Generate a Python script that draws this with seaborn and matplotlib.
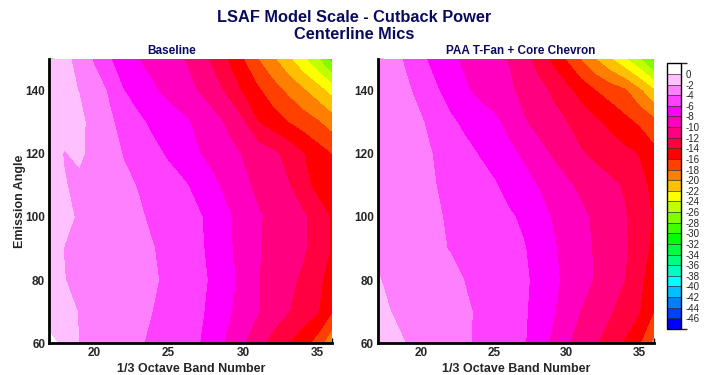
import numpy as np
import matplotlib
matplotlib.use("Agg")
import matplotlib.pyplot as plt
import seaborn as sns
from matplotlib.colors import ListedColormap, BoundaryNorm
from matplotlib.cm import ScalarMappable

# ---------------- data ----------------
bands = [17, 18, 19, 20, 21, 22, 23, 24, 25, 26, 27, 28, 29, 30, 31, 32, 33, 34, 35, 36]
angles = [60, 70, 80, 90, 100, 110, 120, 130, 140, 150]

baseline = [
    [0.8, -0.8, -2.03, -2.5, -2.9, -3.4, -3.8, -4.4, -4.9, -5.4, -5.9, -7.1, -8.4, -9.9, -11.3, -12.8, -13.9, -15.2, -16.9, -19.8],
    [-1.4, -1.3, -2.1, -2.5, -2.8, -3.2, -3.6, -4.05, -4.6, -5.3, -5.7, -6.5, -7.75, -8.9, -9.93, -10.9, -11.9, -12.9, -13.85, -16.0],
    [-0.8, -1.97, -2.3, -2.6, -2.9, -3.2, -3.5, -3.85, -4.3, -4.9, -5.55, -6.3, -7.4, -8.6, -9.9, -10.75, -11.5, -12.35, -13.5, -15.0],
    [-1.0, -2.05, -2.35, -2.65, -2.95, -3.3, -3.65, -3.97, -4.5, -5.1, -5.7, -6.5, -7.7, -8.8, -9.9, -10.5, -11.1, -11.7, -13.0, -14.2],
    [-1.0, -1.6, -2.2, -2.45, -2.9, -3.35, -3.8, -4.3, -4.8, -5.3, -5.8, -6.6, -7.8, -8.8, -9.8, -10.5, -11.1, -11.7, -12.8, -14.3],
    [-1.0, -1.9, -2.4, -2.8, -3.25, -3.65, -4.1, -4.65, -5.2, -5.75, -6.55, -7.6, -8.6, -9.6, -10.4, -11.1, -11.85, -13.2, -14.7, -15.5],
    [-1.2, -2.1, -1.7, -2.6, -3.4, -4.1, -4.8, -5.5, -6.28, -7.1, -7.9, -8.67, -9.4, -10.15, -10.9, -11.6, -12.6, -13.9, -15.1, -16.1],
    [-1.0, -1.3, -1.6, -2.6, -3.7, -4.6, -5.6, -6.5, -7.0, -7.6, -8.5, -9.3, -10.4, -11.8, -14.0, -15.0, -16.0, -16.9, -17.8, -19.0],
    [-1.0, -1.5, -2.05, -3.1, -4.2, -6.0, -7.0, -7.8, -8.6, -9.33, -10.1, -11.2, -12.5, -14.3, -15.7, -17.1, -18.4, -19.7, -21.1, -22.8],
    [-0.8, -1.5, -2.64, -4.24, -5.84, -6.95, -8.0, -8.65, -9.3, -9.94, -11.1, -12.5, -14.2, -16.0, -18.0, -19.7, -21.5, -23.6, -25.8, -29.0],
]

paa_chevron = [
    [0.1, -1.3, -2.1, -2.5, -2.9, -3.35, -3.8, -4.3, -4.8, -5.3, -5.8, -6.9, -8.35, -9.8, -11.0, -11.85, -12.9, -14.2, -15.8, -18.6],
    [-1.4, -2.1, -2.4, -2.75, -3.1, -3.45, -3.8, -4.2, -4.6, -5.2, -5.75, -6.6, -7.75, -9.0, -10.1, -11.0, -11.85, -12.8, -13.9, -16.0],
    [-1.95, -2.2, -2.45, -2.75, -3.1, -3.5, -4.05, -4.45, -4.9, -5.3, -5.7, -6.4, -7.5, -8.5, -9.3, -10.2, -11.0, -12.0, -13.5, -15.2],
    [-2.2, -2.4, -2.8, -3.25, -3.7, -4.1, -4.45, -4.75, -5.05, -5.4, -5.85, -6.65, -7.7, -8.6, -9.4, -10.2, -10.95, -11.75, -13.0, -14.5],
    [-2.2, -2.5, -2.9, -3.35, -3.8, -4.25, -4.6, -5.0, -5.35, -5.75, -6.3, -7.2, -8.1, -8.8, -9.6, -10.4, -11.1, -11.85, -13.0, -14.2],
    [-2.2, -2.5, -3.0, -3.5, -4.0, -4.45, -4.9, -5.35, -5.8, -6.6, -7.25, -8.05, -8.85, -9.7, -10.4, -11.05, -11.6, -12.2, -13.35, -14.5],
    [-2.2, -2.6, -3.0, -3.5, -4.2, -4.85, -5.5, -6.1, -6.8, -7.5, -8.3, -9.3, -10.2, -11.0, -11.85, -12.45, -13.0, -13.5, -14.1, -15.4],
    [-2.3, -2.7, -3.2, -3.85, -4.8, -5.7, -6.4, -7.0, -7.6, -8.6, -9.8, -10.6, -11.3, -12.0, -12.8, -13.7, -14.5, -15.45, -16.3, -17.4],
    [-2.3, -2.9, -3.7, -4.75, -5.8, -6.8, -7.75, -8.5, -9.1, -9.7, -10.5, -11.34, -12.3, -13.5, -14.8, -16.0, -16.9, -17.7, -19.6, -21.7],
    [-2.4, -3.3, -4.4, -5.66, -6.7, -7.67, -8.37, -8.93, -9.5, -10.1, -11.3, -12.7, -14.4, -16.2, -18.1, -20.0, -21.8, -23.7, -25.8, -28.7],
]

level_ticks = [0, -2, -4, -6, -8, -10, -12, -14, -16, -18, -20, -22, -24, -26,
               -28, -30, -32, -34, -36, -38, -40, -42, -44, -46]
level_edges = [2] + level_ticks + [-48]

band_colors = ['#0000FF', '#0040FF', '#0080FF', '#00C0FF', '#00FFFF', '#00FFC0',
               '#00FF80', '#00FF40', '#00FF00', '#40FF00', '#80FF00', '#C0FF00',
               '#FFFF00', '#FFC000', '#FF8000', '#FF4000', '#FF0000', '#FF0040',
               '#FF0080', '#FF00C0', '#FF00FF', '#FF40FF', '#FF80FF', '#FFC0FF',
               '#FFFFFF']

main_title = "LSAF Model Scale - Cutback Power\nCenterline Mics"
panel_titles = ["Baseline", "PAA T-Fan + Core Chevron"]
x_label = "1/3 Octave Band Number"
y_label = "Emission Angle"

# ---------------- style ----------------
sns.set_theme(style="ticks")
plt.rcParams['font.family'] = ['Liberation Sans', 'DejaVu Sans']
plt.rcParams['axes.unicode_minus'] = False

navy = '#0b0b5e'
W, H = 704.0, 375.0

levels = sorted(level_edges)
cmap = ListedColormap(sns.color_palette(band_colors))
norm = BoundaryNorm(levels, cmap.N)

fig = plt.figure(figsize=(W / 100, H / 100), dpi=100)
ax1 = fig.add_axes([49.4 / W, (H - 343.3) / H, 283.0 / W, 284.3 / H])
ax2 = fig.add_axes([378.2 / W, (H - 343.3) / H, 275.3 / W, 284.3 / H])
cax = fig.add_axes([666.7 / W, (H - 329.0) / H, 14.3 / W, 265.7 / H])

for ax, data, ttl, tx in [(ax1, baseline, panel_titles[0], 172),
                          (ax2, paa_chevron, panel_titles[1], 521)]:
    Z = np.array(data)
    ax.contourf(bands, angles, Z, levels=levels, cmap=cmap, norm=norm)
    ax.set_xlim(17, 36)
    ax.set_ylim(60, 150)
    ax.set_xticks([20, 25, 30, 35])
    ax.set_xticks(np.arange(17, 37, 1), minor=True)
    ax.set_yticks([60, 80, 100, 120, 140])
    ax.set_yticks(np.arange(60, 151, 5), minor=True)
    ax.tick_params(which='major', direction='in', length=6, width=1.5,
                   labelsize=8.5, pad=3, color='black')
    ax.tick_params(which='minor', direction='in', length=3.5, width=1.0,
                   color='black')
    for lab in ax.get_xticklabels() + ax.get_yticklabels():
        lab.set_fontweight('bold')
    sns.despine(ax=ax)
    for s in ['left', 'bottom']:
        ax.spines[s].set_linewidth(2)
        ax.spines[s].set_color('black')
    ax.set_xlabel(x_label, fontsize=9, fontweight='bold')
    ax.xaxis.set_label_coords(0.5, (343.3 - 368.5) / 284.3)
    ax.xaxis.label.set_va('center')
    fig.text(tx / W, (H - 51) / H, ttl, ha='center', va='center',
             fontsize=8.5, fontweight='bold', color=navy)

ax1.set_ylabel(y_label, fontsize=9, fontweight='bold')
ax1.yaxis.set_label_coords(-29.4 / 283.0, 0.5)
ax1.yaxis.label.set_va('center')

fig.text(354 / W, (H - 26) / H, main_title, ha='center', va='center',
         fontsize=11.8, fontweight='bold', color=navy, linespacing=1.2)

cb = fig.colorbar(ScalarMappable(norm=norm, cmap=cmap), cax=cax,
                  ticks=level_ticks, drawedges=True)
cb.outline.set_linewidth(1.0)
cb.outline.set_edgecolor('black')
cb.dividers.set_color('#333333')
cb.dividers.set_linewidth(0.5)
cax.tick_params(length=0, labelsize=7, pad=3)
cax.set_yticklabels([str(v) for v in level_ticks])

fig.savefig("out.png", dpi=100)
